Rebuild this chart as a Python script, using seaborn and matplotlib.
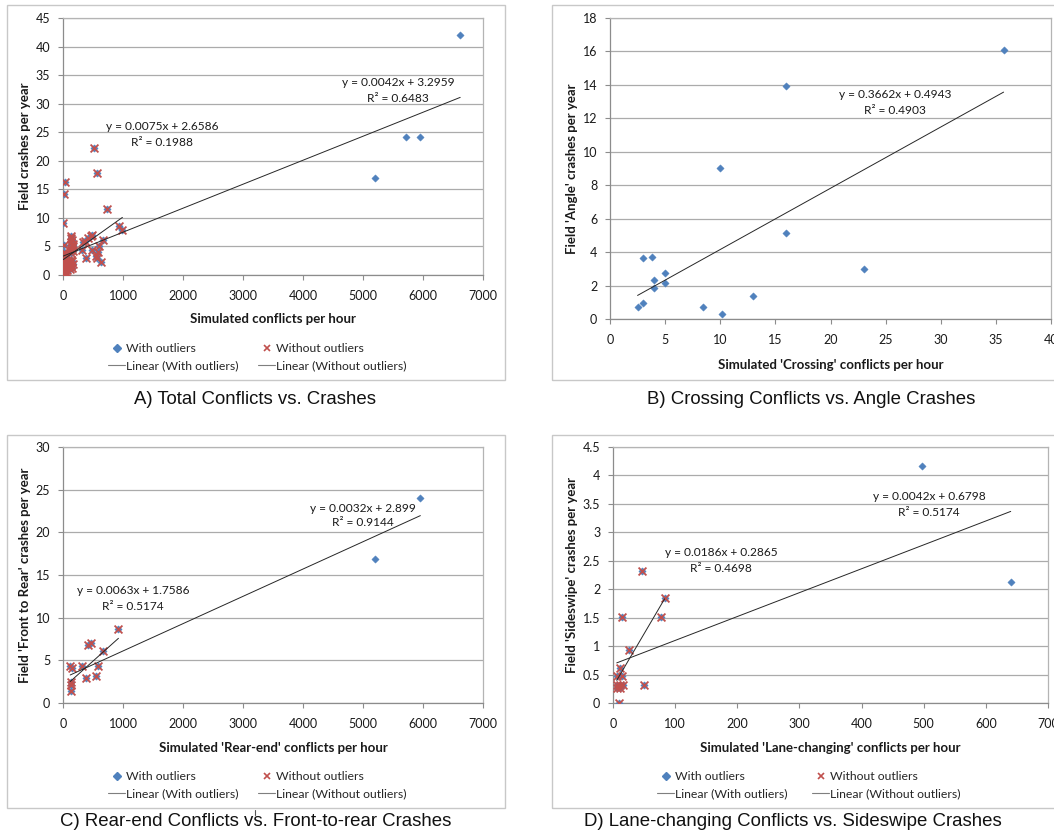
import numpy as np
import pandas as pd
import matplotlib
matplotlib.use("Agg")
import matplotlib.pyplot as plt
from matplotlib.lines import Line2D
from matplotlib.patches import Rectangle
import seaborn as sns

# ---------------- DATA ----------------
# Panel A: total conflicts vs crashes
A_x_out = [5200, 5710, 5950, 6620]
A_y_out = [17.0, 24.1, 24.1, 42.1]
A_x_in = [520, 570, 30, 15, 730, 5, 930, 990, 10, 660, 460, 480, 420, 360, 330, 320,
          600, 490, 580, 545, 560, 640, 380,
          130, 140, 150, 135, 160, 145, 170, 155, 125, 165, 140, 130, 150, 120, 160, 140, 125, 145, 110,
          5, 10, 15, 20, 25, 8, 30, 12, 40, 18, 50, 22, 60, 28, 35, 5, 45, 15, 25, 10, 70, 80, 90, 65, 55, 35, 75]
A_y_in = [22.3, 17.9, 16.2, 14.1, 11.6, 9.1, 8.5, 7.9, 5.2, 6.1, 6.9, 7.0, 6.5, 6.0, 5.8, 4.4,
          5.1, 4.4, 4.1, 3.4, 3.0, 2.2, 2.9,
          6.8, 6.5, 6.2, 5.8, 5.5, 5.2, 5.0, 4.7, 4.4, 4.2, 3.9, 2.6, 2.4, 2.2, 2.0, 1.8, 1.5, 1.3, 1.1,
          0.1, 0.3, 0.5, 0.7, 0.9, 1.1, 1.3, 1.5, 1.7, 1.9, 2.1, 2.3, 2.5, 2.7, 2.9, 3.1, 3.3, 3.5, 3.8, 4.0, 1.9, 1.4, 2.2, 0.8, 0.5, 0.2, 2.6]
A_fit_with = (0.0042, 3.2959)
A_fit_without = (0.0075, 2.6586)
A_eq_with = ["y = 0.0042x + 3.2959", "R² = 0.6483"]
A_eq_without = ["y = 0.0075x + 2.6586", "R² = 0.1988"]

# Panel B: crossing conflicts vs angle crashes
B_x = [35.7, 16.0, 10.0, 16.0, 23.0, 3.0, 3.8, 4.0, 5.0, 5.0, 4.0, 13.0, 2.5, 3.0, 8.4, 10.2]
B_y = [16.07, 13.95, 9.01, 5.16, 3.01, 3.65, 3.71, 2.31, 2.73, 2.13, 1.83, 1.39, 0.70, 0.94, 0.70, 0.30]
B_fit = (0.3662, 0.4943)
B_eq = ["y = 0.3662x + 0.4943", "R² = 0.4903"]

# Panel C: rear-end conflicts vs front-to-rear crashes
C_x_out = [5194, 5956]
C_y_out = [16.9, 24.0]
C_x_in = [924, 462, 418, 663, 120, 158, 310, 582, 380, 554, 130, 130, 130]
C_y_in = [8.65, 7.0, 6.8, 6.15, 4.36, 4.1, 4.3, 4.3, 2.9, 3.2, 2.5, 2.1, 1.36]
C_fit_with = (0.0032, 2.899)
C_fit_without = (0.0063, 1.7586)
C_eq_with = ["y = 0.0032x + 2.899", "R² = 0.9144"]
C_eq_without = ["y = 0.0063x + 1.7586", "R² = 0.5174"]

# Panel D: lane-changing conflicts vs sideswipe crashes
D_x_out = [498, 640]
D_y_out = [4.16, 2.13]
D_x_in = [47, 83, 77, 14, 26, 11, 7, 15, 6, 11, 16, 50, 7, 12, 9]
D_y_in = [2.32, 1.85, 1.52, 1.52, 0.94, 0.62, 0.47, 0.47, 0.32, 0.32, 0.32, 0.32, 0.26, 0.26, 0.0]
D_fit_with = (0.0042, 0.6798)
D_fit_without = (0.0186, 0.2865)
D_eq_with = ["y = 0.0042x + 0.6798", "R² = 0.5174"]
D_eq_without = ["y = 0.0186x + 0.2865", "R² = 0.4698"]

legend_labels = ["With outliers", "Without outliers", "Linear (With outliers)", "Linear (Without outliers)"]
captions = ["A) Total Conflicts vs. Crashes", "B) Crossing Conflicts vs. Angle Crashes",
            "C) Rear-end Conflicts vs. Front-to-rear Crashes", "D) Lane-changing Conflicts vs. Sideswipe Crashes"]

# ---------------- STYLE ----------------
sns.set_style("white")
plt.rcParams["font.family"] = ["Lato", "DejaVu Sans"]
BLUE = "#4F81BD"
RED = "#C0504D"
GRID = "#ABABAB"
AXC = "#8C8C8C"
BOXC = "#C8C8C8"

W, H = 1054, 840
fig = plt.figure(figsize=(W / 100, H / 100), dpi=100)


def fx(px):
    return px / W


def fy(py):
    return 1 - py / H


def make_axes(l, t, r, b):
    return fig.add_axes([l / W, 1 - b / H, (r - l) / W, (b - t) / H])


def style_axes(ax, xmax, xstep, ymax, ystep, xlabel, ylabel, ylab_px, l, t, r, b, xlab_py):
    ax.set_xlim(0, xmax)
    ax.set_ylim(0, ymax)
    ax.set_xticks(np.arange(0, xmax + xstep / 2, xstep))
    ax.set_yticks(np.arange(0, ymax + ystep / 2, ystep))
    ax.yaxis.set_major_formatter(matplotlib.ticker.FormatStrFormatter("%g"))
    ax.xaxis.set_major_formatter(matplotlib.ticker.FormatStrFormatter("%g"))
    ax.grid(axis="y", color=GRID, lw=0.9)
    ax.grid(axis="x", visible=False)
    ax.set_axisbelow(True)
    for s in ["left", "bottom"]:
        ax.spines[s].set_color(AXC)
        ax.spines[s].set_linewidth(0.9)
    for s in ["top", "right"]:
        ax.spines[s].set_color("#B4B4B4")
        ax.spines[s].set_linewidth(0.9)
    ax.tick_params(axis="both", direction="out", length=3.6, width=0.8, color=AXC,
                   labelsize=9, labelcolor="#1a1a1a", left=True, bottom=True)
    ax.tick_params(axis="x", pad=7)
    ax.tick_params(axis="y", pad=5.5)
    ax.set_xlabel(xlabel, fontsize=9.5, fontweight="bold", color="#1a1a1a", va="center")
    ax.set_ylabel(ylabel, fontsize=9.5, fontweight="bold", color="#1a1a1a", va="center", ha="center")
    ax.xaxis.set_label_coords(0.5, -(xlab_py - b) / (b - t))
    ax.yaxis.set_label_coords((ylab_px - l) / (r - l), 0.5)


def scatter(ax, xs, ys, kind):
    df = pd.DataFrame({"x": xs, "y": ys})
    if kind == "with":
        sns.scatterplot(data=df, x="x", y="y", ax=ax, marker="D", s=14, color=BLUE,
                        edgecolor=BLUE, linewidth=0.3, zorder=3, legend=False)
    else:
        sns.scatterplot(data=df, x="x", y="y", ax=ax, marker="x", s=32, color=RED,
                        linewidth=1.3, zorder=4, legend=False)


def trend(ax, xs, fit):
    m, c = fit
    xr = np.array([min(xs), max(xs)], dtype=float)
    df = pd.DataFrame({"x": xr, "y": m * xr + c})
    sns.lineplot(data=df, x="x", y="y", ax=ax, color="#262626", lw=0.7, zorder=5)


def eq_text(lines, cx, y1, y2):
    fig.text(fx(cx), fy(y1), lines[0], ha="center", va="center", fontsize=8.6, color="#1a1a1a")
    fig.text(fx(cx), fy(y2), lines[1], ha="center", va="center", fontsize=8.6, color="#1a1a1a")


def box(l, t, r, b):
    fig.add_artist(Rectangle((fx(l), fy(b)), (r - l) / W, (b - t) / H, transform=fig.transFigure,
                             fill=False, edgecolor=BOXC, lw=1.0, zorder=0))


def legend(x1, x2, y_row1):
    h_with = Line2D([], [], ls="none", marker="D", ms=3.6, color=BLUE)
    h_without = Line2D([], [], ls="none", marker="x", ms=5, mew=1.2, color=RED)
    h_lw = Line2D([], [], color="#7F7F7F", lw=0.8)
    h_lwo = Line2D([], [], color="#7F7F7F", lw=0.8)
    kw = dict(loc="center left", frameon=False, fontsize=8.8, handlelength=1.4, handletextpad=0.1,
              borderpad=0, borderaxespad=0, labelspacing=0.5)
    ymid = (y_row1 + y_row1 + 20) / 2
    fig.legend([h_with, h_lw], [legend_labels[0], legend_labels[2]], bbox_to_anchor=(fx(x1), fy(ymid)), **kw)
    fig.legend([h_without, h_lwo], [legend_labels[1], legend_labels[3]], bbox_to_anchor=(fx(x2), fy(ymid)), **kw)


def caption(text, cx, cy):
    fig.text(fx(cx), fy(cy), text, ha="center", va="center", fontsize=13.4,
             family=["Liberation Sans", "DejaVu Sans"], color="#111111")


# boxes
box(7, 5, 505, 380)
box(552, 5, 1070, 380)
box(7, 435, 505, 808)
box(552, 435, 1070, 808)

# ---------------- Panel A ----------------
axA = make_axes(63, 18, 483, 275)
scatter(axA, A_x_in + A_x_out, A_y_in + A_y_out, "with")
scatter(axA, A_x_in, A_y_in, "without")
trend(axA, A_x_in + A_x_out, A_fit_with)
trend(axA, A_x_in, A_fit_without)
style_axes(axA, 7000, 1000, 45, 5, "Simulated conflicts per hour", "Field crashes per year",
           25, 63, 18, 483, 275, 319)
eq_text(A_eq_with, 398, 83, 99)
eq_text(A_eq_without, 162, 126, 142)
legend(108, 258, 347)
caption(captions[0], 255, 400)

# ---------------- Panel B ----------------
axB = make_axes(610, 18, 1051, 319)
scatter(axB, B_x, B_y, "with")
trend(axB, B_x, B_fit)
style_axes(axB, 40, 5, 18, 2, "Simulated 'Crossing' conflicts per hour", "Field 'Angle' crashes per year",
           572, 610, 18, 1051, 319, 365)
eq_text(B_eq, 895, 95, 111)
caption(captions[1], 811, 400)

# ---------------- Panel C ----------------
axC = make_axes(63, 447, 483, 703)
scatter(axC, C_x_in + C_x_out, C_y_in + C_y_out, "with")
scatter(axC, C_x_in, C_y_in, "without")
trend(axC, C_x_in + C_x_out, C_fit_with)
trend(axC, C_x_in, C_fit_without)
style_axes(axC, 7000, 1000, 30, 5, "Simulated 'Rear-end' conflicts per hour", "Field 'Front to Rear' crashes per year",
           25, 63, 447, 483, 703, 748)
eq_text(C_eq_with, 363, 508, 523)
eq_text(C_eq_without, 133, 590, 607)
legend(108, 258, 775)
caption(captions[2], 256, 822)
fig.add_artist(Line2D([fx(255), fx(255)], [fy(810), fy(815)], transform=fig.transFigure, color="#555555", lw=0.8))

# ---------------- Panel D ----------------
axD = make_axes(613, 447, 1048, 703)
scatter(axD, D_x_in + D_x_out, D_y_in + D_y_out, "with")
scatter(axD, D_x_in, D_y_in, "without")
trend(axD, D_x_in + D_x_out, D_fit_with)
trend(axD, D_x_in, D_fit_without)
style_axes(axD, 700, 100, 4.5, 0.5, "Simulated 'Lane-changing' conflicts per hour", "Field 'Sideswipe' crashes per year",
           572, 613, 447, 1048, 703, 748)
eq_text(D_eq_with, 929, 497, 513)
eq_text(D_eq_without, 721, 553, 568)
legend(657, 812, 775)
caption(captions[3], 793, 822)

for ax in (axA, axB, axC, axD):
    for lab in ax.get_xticklabels():
        lab.set_clip_on(False)

fig.savefig("out.png", dpi=100)
